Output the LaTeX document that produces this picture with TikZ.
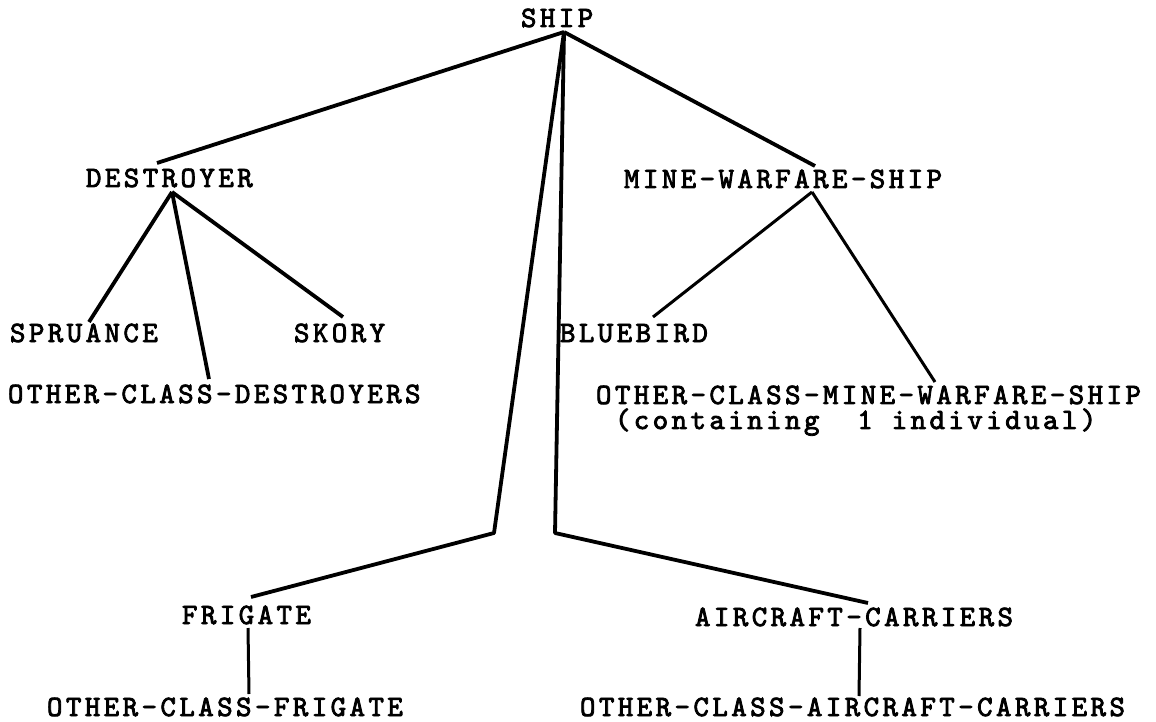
\documentclass[tikz,border=0pt]{standalone}
\usepackage{fontspec}
% spaced, heavy typewriter face for the labels
\newfontfamily\typewriter{lmmono10-regular.otf}[LetterSpace=11.6,FakeBold=2.8]
\begin{document}
\begin{tikzpicture}[x=1pt,y=-1pt,
  lbl/.style={anchor=base west,inner sep=0pt,outer sep=0pt,
              font=\typewriter\fontsize{29.5}{25}\selectfont},
  edge/.style={line width=3.8pt,line join=round},
  thin edge/.style={line width=3.0pt,line join=round}]
\useasboundingbox (0,0) rectangle (1156,722);

% labels
\node[lbl] (ship)   at (521,27)  {SHIP};
\node[lbl] (dest)   at (86,187)  {DESTROYER};
\node[lbl] (mws)    at (624,188) {MINE-WARFARE-SHIP};
\node[lbl] (spru)   at (10,342)  {SPRUANCE};
\node[lbl] (skory)  at (294,342) {SKORY};
\node[lbl] (blue)   at (560,342) {BLUEBIRD};
\node[lbl] (ocd)    at (8,403)   {OTHER-CLASS-DESTROYERS};
\node[lbl,anchor=north west,align=left] (ocmws) at (596,385.6)
  {OTHER-CLASS-MINE-WARFARE-SHIP\\~(containing~~1 individual)};
\node[lbl] (frig)   at (182,624) {FRIGATE};
\node[lbl] (air)    at (695,626) {AIRCRAFT-CARRIERS};
\node[lbl] (ocf)    at (47,716)  {OTHER-CLASS-FRIGATE};
\node[lbl] (oca)    at (580,716) {OTHER-CLASS-AIRCRAFT-CARRIERS};

% attachment points
\coordinate (shipB)  at (564,32);
\coordinate (destT)  at (157,163);
\coordinate (destB)  at (172,192);
\coordinate (mwsT)   at (815,166);
\coordinate (mwsB)   at (812,192);
\coordinate (spruT)  at (89,322);
\coordinate (skoryT) at (343,317);
\coordinate (ocdT)   at (209,379);
\coordinate (blueT)  at (653,317);
\coordinate (ocmwsT) at (935,382);
\coordinate (bendL)  at (494,533);
\coordinate (bendR)  at (555,533);
\coordinate (frigT)  at (251,597);
\coordinate (airT)   at (868,603);
\coordinate (frigB)  at (248,628);
\coordinate (ocfT)   at (249,694);
\coordinate (airB)   at (860,628);
\coordinate (ocaT)   at (859,696);

% tree edges
\draw[edge] (shipB) -- (destT);
\draw[edge] (shipB) -- (mwsT);
\draw[edge] (shipB) -- (bendL) -- (frigT);
\draw[edge] (shipB) -- (bendR) -- (airT);
\draw[edge] (destB) -- (spruT);
\draw[edge] (destB) -- (skoryT);
\draw[edge] (destB) -- (ocdT);
\draw[thin edge] (mwsB) -- (blueT);
\draw[thin edge] (mwsB) -- (ocmwsT);
\draw[thin edge] (frigB) -- (ocfT);
\draw[thin edge] (airB) -- (ocaT);
\end{tikzpicture}
\end{document}
